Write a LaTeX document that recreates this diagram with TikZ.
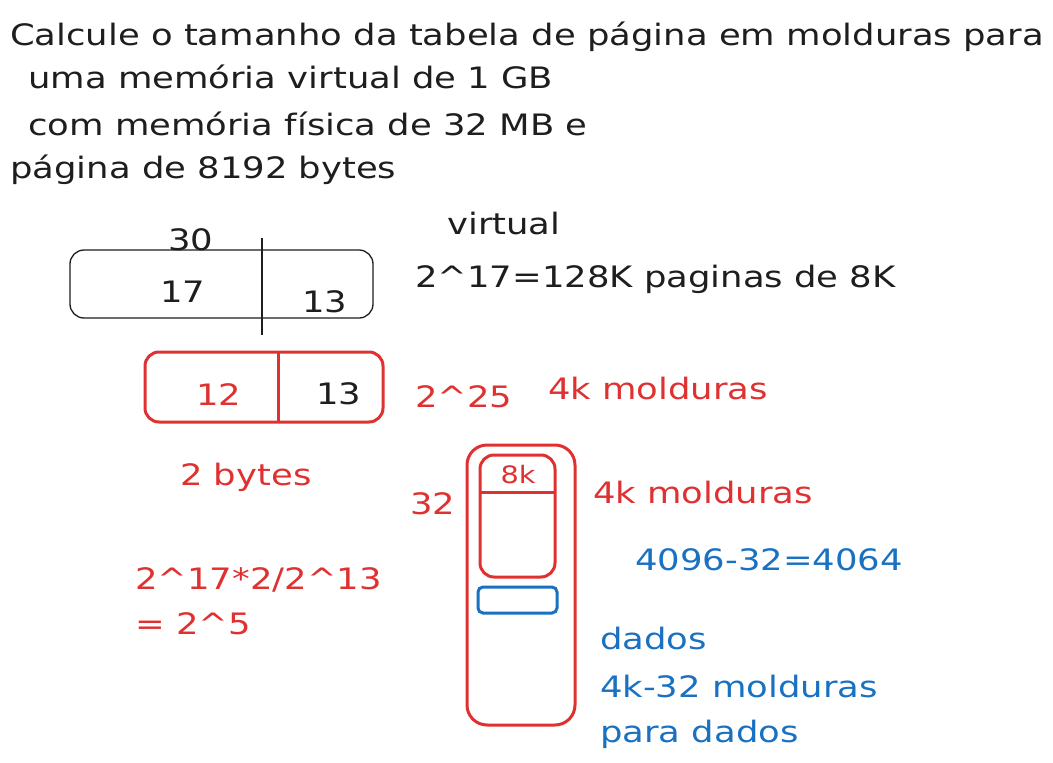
\documentclass[tikz,border=0pt]{standalone}
\usepackage{fontspec}
\setmainfont[FakeStretch=1.2]{DejaVu Sans}
\definecolor{ink}{HTML}{1E1E1E}
\definecolor{xred}{HTML}{E03131}
\definecolor{xblue}{HTML}{1971C2}
\begin{document}
\begin{tikzpicture}[x=1pt,y=-1pt,
  txt/.style={anchor=base west,inner sep=0pt,font=\fontsize{29.5}{34}\selectfont,text=ink},
  rtxt/.style={txt,text=xred},
  btxt/.style={txt,text=xblue},
  thinbox/.style={draw=ink,line width=1.3pt,rounded corners=14pt},
  redbox/.style={draw=xred,line width=3pt,rounded corners=14pt},
  bluebox/.style={draw=xblue,line width=3pt,rounded corners=5pt}]
\useasboundingbox[fill=white] (0,0) rectangle (1053,763);
% title
\node[txt] (t1) at (10,45) {Calcule o tamanho da tabela de página em molduras para};
\node[txt] (t2) at (28,88) {uma memória virtual de 1 GB};
\node[txt] (t3) at (28,135) {com memória física de 32 MB e};
\node[txt] (t4) at (10,178) {página de 8192 bytes};
% virtual address
\node[txt] (l30) at (168,250) {30};
\draw[thinbox] (70,250) rectangle (373,318);
\coordinate (vtop) at (262,238);
\coordinate (vbot) at (262,335);
\draw[ink,line width=1.3pt] (vtop) -- (vbot);
\node[txt] (n17) at (160,302) {17};
\node[txt] (n13a) at (302,312) {13};
\node[txt] (virt) at (447,234) {virtual};
\node[txt] (vcalc) at (415,287) {2\^{}17=128K paginas de 8K};
% physical address
\draw[redbox] (145,352) rectangle (383,422);
\coordinate (ptop) at (278,352);
\coordinate (pbot) at (278,422);
\draw[xred,line width=3pt] (ptop) -- (pbot);
\node[rtxt] (n12) at (196,405) {12};
\node[txt] (n13b) at (316,404) {13};
\node[rtxt] (p25) at (415,407) {2\^{}25};
\node[rtxt] (m1) at (548,399) {4k molduras};
\node[rtxt] (b2) at (180,485) {2 bytes};
% memory
\draw[redbox,rounded corners=20pt] (467,445) rectangle (575,725);
\draw[redbox,rounded corners=14pt] (480,455) rectangle (555,577);
\coordinate (dl) at (480,492);
\coordinate (dr) at (555,492);
\draw[xred,line width=3pt] (dl) -- (dr);
\node[rtxt,anchor=base,font=\fontsize{24}{28}\selectfont] (k8) at (518,483) {8k};
\draw[bluebox] (478,587) rectangle (557,613);
\node[rtxt] (n32) at (410,514) {32};
\node[rtxt] (m2) at (593,503) {4k molduras};
\node[btxt] (calc) at (635,570) {4096-32=4064};
\node[rtxt] (f1) at (135,589) {2\^{}17*2/2\^{}13};
\node[rtxt] (f2) at (135,634) {= 2\^{}5};
\node[btxt] (d1) at (600,649) {dados};
\node[btxt] (d2) at (600,697) {4k-32 molduras};
\node[btxt] (d3) at (600,742) {para dados};
\end{tikzpicture}
\end{document}
